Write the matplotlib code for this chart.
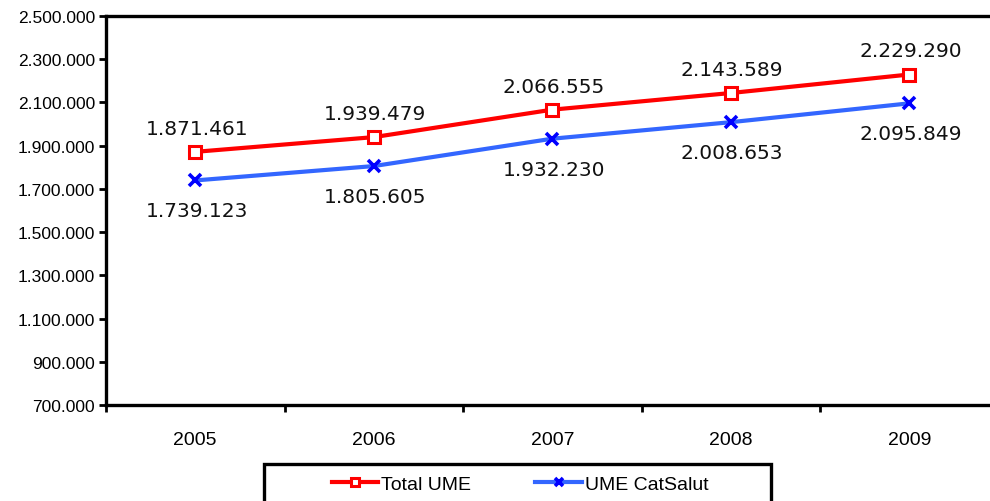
#!/usr/bin/env python3
"""UME totals vs CatSalut, 2005-2009."""

import matplotlib
matplotlib.use("Agg")
import matplotlib.pyplot as plt
from matplotlib.patches import Rectangle
from matplotlib.ticker import FixedLocator, FuncFormatter

years = ["2005", "2006", "2007", "2008", "2009"]
total_ume = [1871461, 1939479, 2066555, 2143589, 2229290]
ume_catsalut = [1739123, 1805605, 1932230, 2008653, 2095849]

RED = "#FF0000"
BLUE_LINE = "#3366FF"
BLUE_MARK = "#0000FF"


def fmt(v, _pos=None):
    return f"{int(v):,}".replace(",", ".")


fig = plt.figure(figsize=(9.9, 5.02), dpi=100)
ax = fig.add_axes([106 / 990, 1 - 406 / 502, 892.5 / 990, 389 / 502])

x = list(range(len(years)))
ax.plot(x, total_ume, color=RED, linewidth=3.0, marker="s", markersize=8.5,
        markerfacecolor="white", markeredgecolor=RED, markeredgewidth=2.2,
        label="Total UME", zorder=3)
ax.plot(x, ume_catsalut, color=BLUE_LINE, linewidth=3.0, marker="x", markersize=9,
        markeredgecolor=BLUE_MARK, markeredgewidth=2.6,
        label="UME CatSalut", zorder=3)

for xi, v in zip(x, total_ume):
    ax.annotate(fmt(v), (xi, v), xytext=(1, 17), textcoords="offset points",
                ha="center", va="center", fontsize=14.5, family="DejaVu Sans",
                color="#111111")
for xi, v in zip(x, ume_catsalut):
    ax.annotate(fmt(v), (xi, v), xytext=(1, -22), textcoords="offset points",
                ha="center", va="center", fontsize=14.5, family="DejaVu Sans",
                color="#111111")

ax.set_xlim(-0.5, len(years) - 0.5)
ax.set_ylim(700000, 2500000)
ax.yaxis.set_major_locator(FixedLocator(range(700000, 2500001, 200000)))
ax.yaxis.set_major_formatter(FuncFormatter(fmt))

ax.xaxis.set_major_locator(FixedLocator([i - 0.5 for i in range(len(years) + 1)]))
ax.xaxis.set_major_formatter(FuncFormatter(lambda v, p: ""))
ax.xaxis.set_minor_locator(FixedLocator(x))
ax.set_xticklabels(years, minor=True, fontsize=14, family="Liberation Sans")
ax.tick_params(axis="x", which="minor", length=0, pad=19)
ax.tick_params(axis="x", which="major", direction="out", length=5, width=2)
ax.tick_params(axis="y", direction="out", length=5, width=2, labelsize=12.5, pad=3)
for lab in ax.get_yticklabels():
    lab.set_family("Liberation Sans")

for side in ("left", "top", "bottom"):
    ax.spines[side].set_linewidth(2.4)
    ax.spines[side].set_color("black")
ax.spines["right"].set_visible(False)

# legend box (runs off the bottom of the figure)
fig.patches.append(Rectangle((264 / 990, -0.05), 507 / 990, 0.05 + 1 - 465 / 502,
                             transform=fig.transFigure, fill=False,
                             edgecolor="black", linewidth=2.4))
leg = fig.legend(loc="center", bbox_to_anchor=(520 / 990, 1 - 485 / 502), ncol=2,
                 frameon=False, prop={"family": "Liberation Sans", "size": 14},
                 handlelength=2.4, handletextpad=0.15, columnspacing=3.3,
                 borderpad=0, markerscale=0.7)

fig.savefig("out.png", dpi=100)
